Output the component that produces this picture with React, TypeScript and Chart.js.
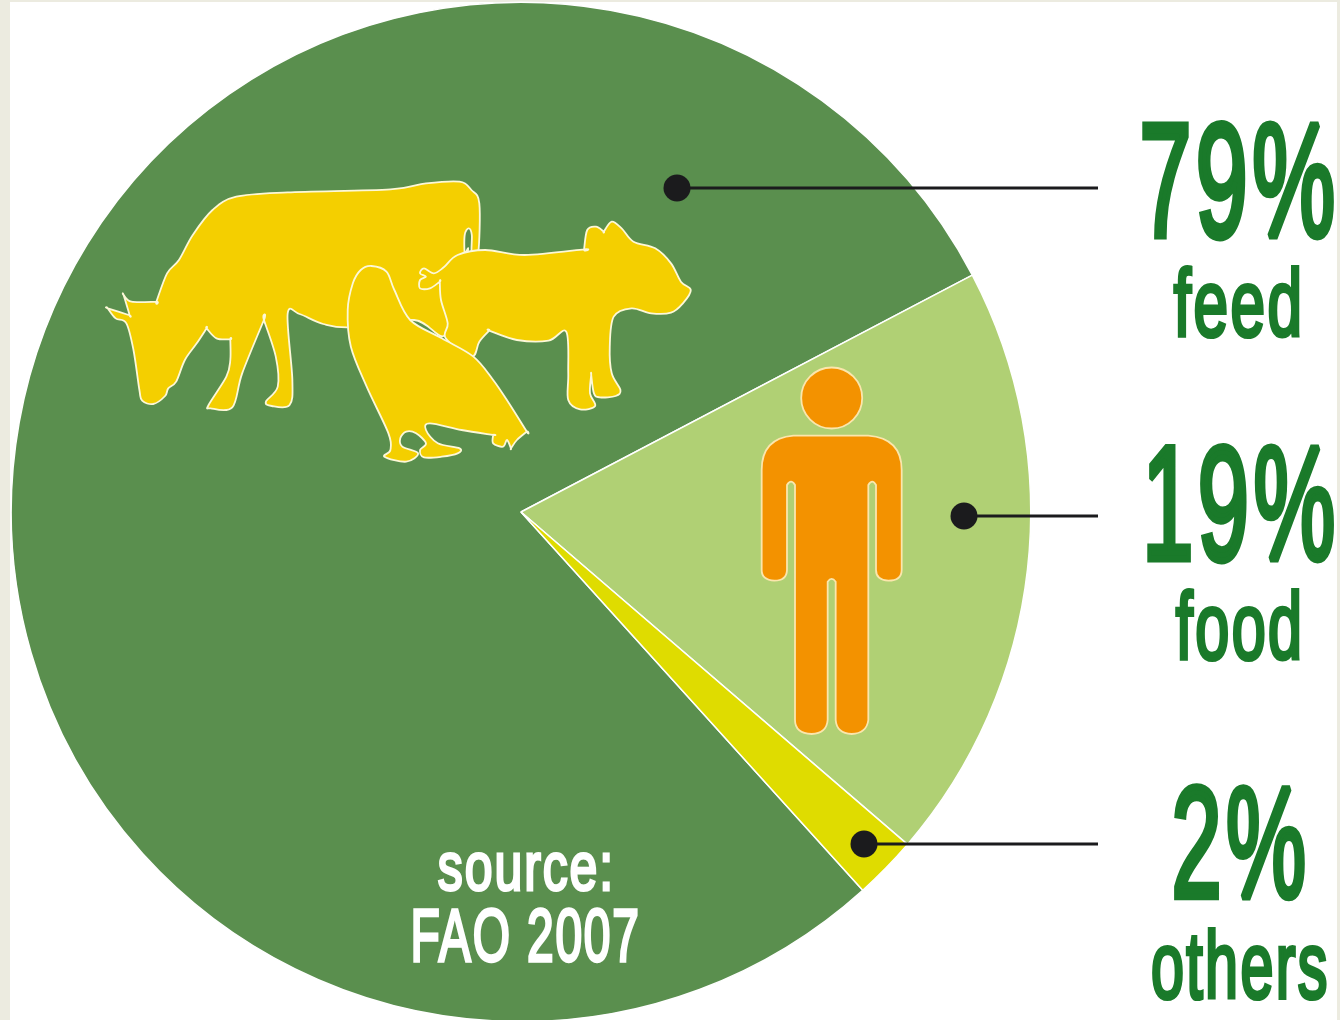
import React, { useEffect, useRef } from "react";
import { Chart, registerables } from "chart.js";

Chart.register(...registerables);

// Share of world cereal use, per cent
const categories = ["feed", "food", "others"];
const shares = [79, 19, 2];
const sliceColors = ["#5a8f4e", "#b0d074", "#dfdc00"];
const sourceLines = ["source:", "FAO 2007"];

const FONT = '"Liberation Sans Narrow", "Liberation Sans", sans-serif';
const LABEL_GREEN = "#1a7a2a";
const LEADER = "#1b1b1d";

type Box = { left: number; right: number; top: number; bottom: number };
type Pt = [number, number];

// Draws a string so that its ink fills the given box exactly; a stroke thickens light type.
function fitText(
  ctx: CanvasRenderingContext2D,
  text: string,
  box: Box,
  font: string,
  color: string,
  thicken = 0,
  spacing = "0px",
) {
  ctx.save();
  ctx.font = font;
  (ctx as any).letterSpacing = spacing;
  ctx.fillStyle = color;
  ctx.strokeStyle = color;
  ctx.lineWidth = thicken;
  ctx.lineJoin = "miter";
  ctx.miterLimit = 2;
  ctx.textAlign = "left";
  ctx.textBaseline = "alphabetic";
  const m = ctx.measureText(text);
  const pad = thicken / 2;
  const inkW = m.actualBoundingBoxLeft + m.actualBoundingBoxRight + thicken;
  const inkH = m.actualBoundingBoxAscent + m.actualBoundingBoxDescent + thicken;
  const sx = (box.right - box.left) / inkW;
  const sy = (box.bottom - box.top) / inkH;
  ctx.translate(box.left + (m.actualBoundingBoxLeft + pad) * sx, box.top + (m.actualBoundingBoxAscent + pad) * sy);
  ctx.scale(sx, sy);
  ctx.fillText(text, 0, 0);
  if (thicken > 0) ctx.strokeText(text, 0, 0);
  ctx.restore();
}

// Closed spline through the points; a repeated point gives a sharp corner.
function outline(points: Pt[], ox: number, oy: number, kx: number, ky: number): Path2D {
  const p = points.map(([x, y]) => [ox + x * kx, oy + y * ky]);
  const n = p.length;
  const path = new Path2D();
  path.moveTo(p[0][0], p[0][1]);
  for (let i = 0; i < n; i++) {
    const p0 = p[(i - 1 + n) % n];
    const p1 = p[i];
    const p2 = p[(i + 1) % n];
    const p3 = p[(i + 2) % n];
    path.bezierCurveTo(
      p1[0] + (p2[0] - p0[0]) / 6,
      p1[1] + (p2[1] - p0[1]) / 6,
      p2[0] - (p3[0] - p1[0]) / 6,
      p2[1] - (p3[1] - p1[1]) / 6,
      p2[0],
      p2[1],
    );
  }
  path.closePath();
  return path;
}

const cowOutline: Pt[] = [
  [45, 445], [45, 445], [65, 475], [92, 490], [110, 570], [125, 690], [132, 722], [160, 732], [190, 708], [198, 685], [218, 665], [240, 600],
  [270, 550], [295, 505], [295, 505], [320, 535], [355, 538], [355, 538], [355, 600], [345, 650], [300, 735], [305, 745], [360, 742], [385, 640],
  [440, 480], [440, 480], [470, 590], [475, 680], [445, 725], [460, 738], [505, 735], [512, 660], [500, 462], [530, 462], [590, 492], [660, 502],
  [820, 480], [905, 520], [955, 280], [948, 280], [948, 225], [958, 205], [966, 225], [966, 280], [982, 280], [985, 130], [965, 90], [935, 65],
  [850, 70], [760, 88], [500, 97], [370, 110], [310, 150], [260, 225], [225, 300], [195, 340], [168, 425], [168, 425], [105, 425], [85, 405], [85, 405],
  [100, 465], [98, 465],
];

const pigOutline: Pt[] = [
  [895, 322], [930, 285], [1000, 270], [1100, 285], [1250, 268], [1250, 268], [1258, 210], [1280, 200], [1300, 215], [1300, 215], [1320, 185], [1345, 205],
  [1375, 245], [1430, 265], [1470, 310], [1495, 365], [1520, 390], [1500, 430], [1470, 458], [1420, 460], [1370, 445], [1325, 470],
  [1315, 560], [1320, 640], [1342, 690], [1330, 708], [1290, 712], [1275, 700], [1268, 645], [1268, 645], [1265, 700], [1278, 738], [1240, 748], [1210, 720],
  [1210, 640], [1205, 515], [1160, 542], [1080, 540], [1010, 512], [1010, 512], [985, 545], [965, 590], [900, 535], [905, 490], [888, 420], [885, 365], [885, 365],
  [860, 385], [835, 385], [835, 360], [850, 350], [835, 340], [845, 325], [870, 340],
];

const henOutline: Pt[] = [
  [712, 318], [750, 335], [770, 390], [810, 480], [890, 535], [970, 590], [1020, 660], [1060, 730], [1105, 815], [1105, 815], [1080, 840], [1065, 865], [1065, 865],
  [1055, 840], [1045, 860], [1020, 850], [1020, 825], [1020, 825], [940, 810], [860, 790], [850, 810], [880, 850], [935, 865], [930, 880], [890, 890], [845, 892], [835, 870],
  [850, 850], [825, 820], [800, 815], [785, 835], [790, 860], [830, 880], [800, 905], [745, 890], [760, 870], [755, 820], [700, 680], [660, 560], [652, 450], [665, 370], [685, 330],
];

const personBody =
  "M160 257 L385 257 Q485 265 485 360 L485 660 Q485 692 445 692 Q408 690 408 660 L408 405 Q397 385 385 405 " +
  "L385 1110 Q380 1150 335 1152 Q290 1150 287 1110 L287 695 Q275 678 263 695 L263 1110 Q260 1150 215 1152 " +
  "Q165 1150 165 1110 L165 405 Q153 385 141 405 L141 660 Q140 692 103 692 Q65 690 65 660 L65 360 Q65 265 160 257 Z";

const decorations = {
  id: "decorations",
  afterDatasetsDraw(chart: Chart) {
    const ctx = chart.ctx;

    // Animal silhouettes
    ctx.save();
    ctx.fillStyle = "#f4cf00";
    ctx.strokeStyle = "#fdf8d8";
    ctx.lineWidth = 1.8;
    ctx.lineJoin = "round";
    for (const shape of [cowOutline, pigOutline, henOutline]) {
      const path = outline(shape, 90, 160, 1 / 2.53, 1 / 3);
      ctx.fill(path);
      ctx.stroke(path);
    }
    ctx.restore();

    // Human figure
    ctx.save();
    ctx.fillStyle = "#f39200";
    ctx.strokeStyle = "#fbe6ac";
    ctx.lineWidth = 1.8;
    ctx.beginPath();
    ctx.arc(831.7, 398, 30.5, 0, Math.PI * 2);
    ctx.fill();
    ctx.stroke();
    ctx.translate(740, 350);
    ctx.scale(1 / 3, 1 / 3);
    ctx.lineWidth = 5.4;
    const body = new Path2D(personBody);
    ctx.fill(body);
    ctx.stroke(body);
    ctx.restore();

    // Leader lines with their dots
    const leaders = [
      { x: 677, y: 188 },
      { x: 964, y: 516 },
      { x: 864, y: 844 },
    ];
    ctx.save();
    ctx.strokeStyle = LEADER;
    ctx.fillStyle = LEADER;
    ctx.lineWidth = 3;
    for (const { x, y } of leaders) {
      ctx.beginPath();
      ctx.moveTo(x, y);
      ctx.lineTo(1098, y);
      ctx.stroke();
      ctx.beginPath();
      ctx.arc(x, y, 13.5, 0, Math.PI * 2);
      ctx.fill();
    }
    ctx.restore();

    // Percentages and category names at the right
    const percentBoxes: Box[] = [
      { left: 1142, right: 1334, top: 120, bottom: 241 },
      { left: 1147, right: 1334, top: 443, bottom: 564 },
      { left: 1174, right: 1305, top: 782, bottom: 901 },
    ];
    const nameBoxes: Box[] = [
      { left: 1173, right: 1300, top: 265, bottom: 339 },
      { left: 1175, right: 1300, top: 588, bottom: 662 },
      { left: 1152, right: 1327, top: 927, bottom: 1001 },
    ];
    categories.forEach((name, i) => {
      fitText(ctx, `${shares[i]}%`, percentBoxes[i], `165px ${FONT}`, LABEL_GREEN, 7, "8px");
      fitText(ctx, name, nameBoxes[i], `100px ${FONT}`, LABEL_GREEN, 4.5, "4px");
    });

    // Source note inside the large slice
    fitText(ctx, sourceLines[0], { left: 438, right: 610, top: 851, bottom: 892 }, `78px ${FONT}`, "#ffffff", 3.5, "3px");
    fitText(ctx, sourceLines[1], { left: 413, right: 638, top: 907, bottom: 964 }, `78px ${FONT}`, "#ffffff", 3.5, "3px");
  },
};

export default function App() {
  const canvasRef = useRef<HTMLCanvasElement | null>(null);

  useEffect(() => {
    const canvas = canvasRef.current;
    if (!canvas) return;
    const chart = new Chart(canvas, {
      type: "pie",
      data: {
        labels: categories,
        datasets: [
          {
            data: shares,
            backgroundColor: sliceColors,
            borderColor: "#ffffff",
            borderWidth: 1.5,
            hoverOffset: 0,
          },
        ],
      },
      options: {
        responsive: false,
        animation: false,
        rotation: 137.9,
        layout: { padding: { left: 10.5, right: 308.5, top: 0, bottom: 0 } },
        plugins: { legend: { display: false }, tooltip: { enabled: false } },
      },
      plugins: [decorations],
    });
    return () => chart.destroy();
  }, []);

  return (
    <div style={{ position: "absolute", left: 0, top: 0, width: 1340, height: 1020, overflow: "hidden", background: "#ecebe0" }}>
      <div style={{ position: "absolute", left: 10, top: 2, width: 1327, height: 1018, background: "#ffffff" }} />
      <canvas ref={canvasRef} width={1340} height={1024} style={{ position: "absolute", left: 0, top: 0 }} />
    </div>
  );
}
